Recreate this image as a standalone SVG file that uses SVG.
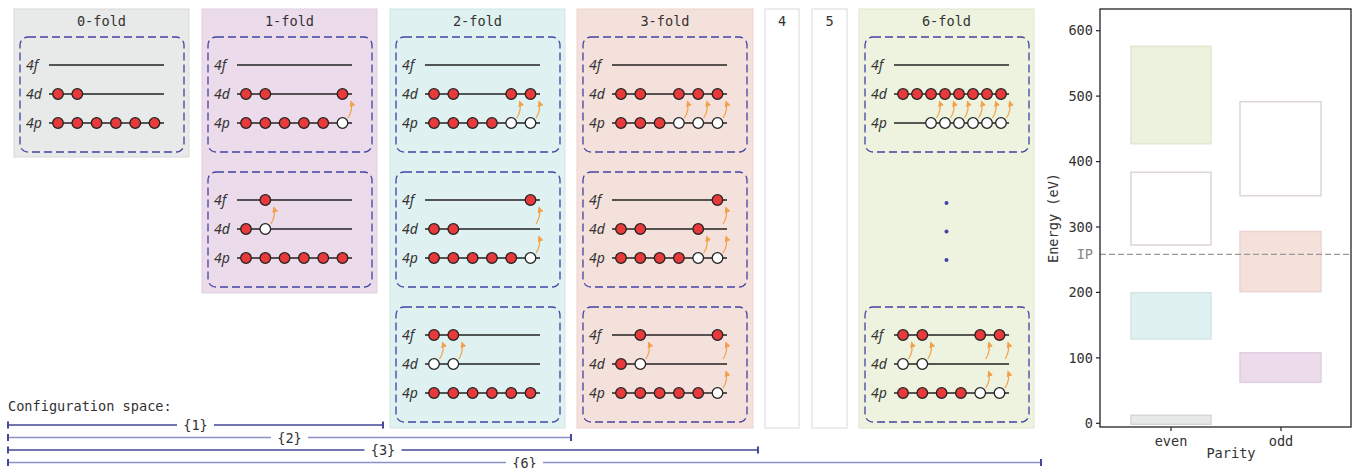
<svg xmlns="http://www.w3.org/2000/svg" width="1354" height="468" viewBox="0 0 1354 468">
<defs>
<marker id="ah" markerUnits="userSpaceOnUse" markerWidth="7" markerHeight="7" refX="5" refY="3" orient="auto">
<path d="M0,0 L6,3 L0,6 z" fill="#f4a049"/>
</marker>
<style>
.mono{font-family:"DejaVu Sans Mono","Liberation Mono",monospace;font-size:13.6px;fill:#333}
.ttl{text-anchor:middle}
.lbl{font-family:"Noto Sans","DejaVu Sans",sans-serif;font-style:italic;font-size:14px;fill:#333}
.box{fill:none;stroke:#4343a3;stroke-width:1.3;stroke-dasharray:8,4}
.lv{stroke:#222;stroke-width:1.3}
.e{fill:#e8393b;stroke:#222;stroke-width:1.3}
.h{fill:#fff;stroke:#222;stroke-width:1.3}
.ar{fill:none;stroke:#f4a049;stroke-width:1.2;marker-end:url(#ah)}
.dk{stroke:#45479a;stroke-width:1.5}
.lt{stroke:#8d90c8;stroke-width:1.5}
.tk{stroke:#45479a;stroke-width:2}
</style>
</defs>
<rect width="1354" height="468" fill="#fff"/>

<!-- panel 0-fold -->
<g id="panel0">
<rect x="14" y="9" width="175" height="148" fill="#e8e9e9" stroke="#d8d8d8"/>
<text class="mono ttl" x="101.5" y="25.5">0-fold</text>
<rect class="box" x="20" y="37" width="164" height="115" rx="8"/>
<text class="lbl" x="26" y="70">4f</text><text class="lbl" x="26" y="99">4d</text><text class="lbl" x="26" y="128">4p</text>
<line class="lv" x1="49" y1="65" x2="164" y2="65"/><line class="lv" x1="49" y1="94" x2="164" y2="94"/><line class="lv" x1="49" y1="123" x2="164" y2="123"/>
<circle class="e" cx="58" cy="94" r="5.3"/><circle class="e" cx="77.3" cy="94" r="5.3"/>
<circle class="e" cx="58" cy="123" r="5.3"/><circle class="e" cx="77.3" cy="123" r="5.3"/><circle class="e" cx="96.6" cy="123" r="5.3"/><circle class="e" cx="115.9" cy="123" r="5.3"/><circle class="e" cx="135.2" cy="123" r="5.3"/><circle class="e" cx="154.5" cy="123" r="5.3"/>
</g>

<!-- panel 1-fold -->
<g id="panel1">
<rect x="202" y="9" width="175" height="284" fill="#ecdbeb" stroke="#e0cfe0"/>
<text class="mono ttl" x="289.5" y="25.5">1-fold</text>
<rect class="box" x="208" y="37" width="164" height="115" rx="8"/>
<text class="lbl" x="214" y="70">4f</text><text class="lbl" x="214" y="99">4d</text><text class="lbl" x="214" y="128">4p</text>
<line class="lv" x1="237" y1="65" x2="352" y2="65"/><line class="lv" x1="237" y1="94" x2="352" y2="94"/><line class="lv" x1="237" y1="123" x2="352" y2="123"/>
<circle class="e" cx="246" cy="94" r="5.3"/><circle class="e" cx="265.3" cy="94" r="5.3"/><circle class="e" cx="342.5" cy="94" r="5.3"/>
<circle class="e" cx="246" cy="123" r="5.3"/><circle class="e" cx="265.3" cy="123" r="5.3"/><circle class="e" cx="284.6" cy="123" r="5.3"/><circle class="e" cx="303.9" cy="123" r="5.3"/><circle class="e" cx="323.2" cy="123" r="5.3"/><circle class="h" cx="342.5" cy="123" r="5.3"/>
<path class="ar" d="M348,118 C351.5,113 352.5,106 351,101.5"/>
<rect class="box" x="208" y="172" width="164" height="115" rx="8"/>
<text class="lbl" x="214" y="205">4f</text><text class="lbl" x="214" y="234">4d</text><text class="lbl" x="214" y="263">4p</text>
<line class="lv" x1="237" y1="200" x2="352" y2="200"/><line class="lv" x1="237" y1="229" x2="352" y2="229"/><line class="lv" x1="237" y1="258" x2="352" y2="258"/>
<circle class="e" cx="265.3" cy="200" r="5.3"/>
<circle class="e" cx="246" cy="229" r="5.3"/><circle class="h" cx="265.3" cy="229" r="5.3"/>
<circle class="e" cx="246" cy="258" r="5.3"/><circle class="e" cx="265.3" cy="258" r="5.3"/><circle class="e" cx="284.6" cy="258" r="5.3"/><circle class="e" cx="303.9" cy="258" r="5.3"/><circle class="e" cx="323.2" cy="258" r="5.3"/><circle class="e" cx="342.5" cy="258" r="5.3"/>
<path class="ar" d="M270.8,224 C274.3,219 275.3,212 273.8,207.5"/>
</g>

<!-- panel 2-fold -->
<g id="panel2">
<rect x="390" y="9" width="175" height="419" fill="#dff1f0" stroke="#d0e6e4"/>
<text class="mono ttl" x="477.5" y="25.5">2-fold</text>
<rect class="box" x="396" y="37" width="164" height="115" rx="8"/>
<text class="lbl" x="402" y="70">4f</text><text class="lbl" x="402" y="99">4d</text><text class="lbl" x="402" y="128">4p</text>
<line class="lv" x1="425" y1="65" x2="540" y2="65"/><line class="lv" x1="425" y1="94" x2="540" y2="94"/><line class="lv" x1="425" y1="123" x2="540" y2="123"/>
<circle class="e" cx="434" cy="94" r="5.3"/><circle class="e" cx="453.3" cy="94" r="5.3"/><circle class="e" cx="511.2" cy="94" r="5.3"/><circle class="e" cx="530.5" cy="94" r="5.3"/>
<circle class="e" cx="434" cy="123" r="5.3"/><circle class="e" cx="453.3" cy="123" r="5.3"/><circle class="e" cx="472.6" cy="123" r="5.3"/><circle class="e" cx="491.9" cy="123" r="5.3"/><circle class="h" cx="511.2" cy="123" r="5.3"/><circle class="h" cx="530.5" cy="123" r="5.3"/>
<path class="ar" d="M516.7,118 C520.2,113 521.2,106 519.7,101.5"/>
<path class="ar" d="M536,118 C539.5,113 540.5,106 539,101.5"/>
<rect class="box" x="396" y="172" width="164" height="115" rx="8"/>
<text class="lbl" x="402" y="205">4f</text><text class="lbl" x="402" y="234">4d</text><text class="lbl" x="402" y="263">4p</text>
<line class="lv" x1="425" y1="200" x2="540" y2="200"/><line class="lv" x1="425" y1="229" x2="540" y2="229"/><line class="lv" x1="425" y1="258" x2="540" y2="258"/>
<circle class="e" cx="530.5" cy="200" r="5.3"/>
<circle class="e" cx="434" cy="229" r="5.3"/><circle class="e" cx="453.3" cy="229" r="5.3"/>
<circle class="e" cx="434" cy="258" r="5.3"/><circle class="e" cx="453.3" cy="258" r="5.3"/><circle class="e" cx="472.6" cy="258" r="5.3"/><circle class="e" cx="491.9" cy="258" r="5.3"/><circle class="e" cx="511.2" cy="258" r="5.3"/><circle class="h" cx="530.5" cy="258" r="5.3"/>
<path class="ar" d="M536,253 C539.5,248 540.5,241 539,236.5"/>
<path class="ar" d="M536,224 C539.5,219 540.5,212 539,207.5"/>
<rect class="box" x="396" y="307" width="164" height="115" rx="8"/>
<text class="lbl" x="402" y="340">4f</text><text class="lbl" x="402" y="369">4d</text><text class="lbl" x="402" y="398">4p</text>
<line class="lv" x1="425" y1="335" x2="540" y2="335"/><line class="lv" x1="425" y1="364" x2="540" y2="364"/><line class="lv" x1="425" y1="393" x2="540" y2="393"/>
<circle class="e" cx="434" cy="335" r="5.3"/><circle class="e" cx="453.3" cy="335" r="5.3"/>
<circle class="h" cx="434" cy="364" r="5.3"/><circle class="h" cx="453.3" cy="364" r="5.3"/>
<circle class="e" cx="434" cy="393" r="5.3"/><circle class="e" cx="453.3" cy="393" r="5.3"/><circle class="e" cx="472.6" cy="393" r="5.3"/><circle class="e" cx="491.9" cy="393" r="5.3"/><circle class="e" cx="511.2" cy="393" r="5.3"/><circle class="e" cx="530.5" cy="393" r="5.3"/>
<path class="ar" d="M439.5,359 C443,354 444,347 442.5,342.5"/>
<path class="ar" d="M458.8,359 C462.3,354 463.3,347 461.8,342.5"/>
</g>

<!-- panel 3-fold -->
<g id="panel3">
<rect x="577" y="9" width="176" height="419" fill="#f5e1dc" stroke="#ead4ce"/>
<text class="mono ttl" x="665" y="25.5">3-fold</text>
<rect class="box" x="583" y="37" width="164" height="115" rx="8"/>
<text class="lbl" x="589" y="70">4f</text><text class="lbl" x="589" y="99">4d</text><text class="lbl" x="589" y="128">4p</text>
<line class="lv" x1="612" y1="65" x2="727" y2="65"/><line class="lv" x1="612" y1="94" x2="727" y2="94"/><line class="lv" x1="612" y1="123" x2="727" y2="123"/>
<circle class="e" cx="621" cy="94" r="5.3"/><circle class="e" cx="640.3" cy="94" r="5.3"/><circle class="e" cx="678.9" cy="94" r="5.3"/><circle class="e" cx="698.2" cy="94" r="5.3"/><circle class="e" cx="717.5" cy="94" r="5.3"/>
<circle class="e" cx="621" cy="123" r="5.3"/><circle class="e" cx="640.3" cy="123" r="5.3"/><circle class="e" cx="659.6" cy="123" r="5.3"/><circle class="h" cx="678.9" cy="123" r="5.3"/><circle class="h" cx="698.2" cy="123" r="5.3"/><circle class="h" cx="717.5" cy="123" r="5.3"/>
<path class="ar" d="M684.4,118 C687.9,113 688.9,106 687.4,101.5"/>
<path class="ar" d="M703.7,118 C707.2,113 708.2,106 706.7,101.5"/>
<path class="ar" d="M723,118 C726.5,113 727.5,106 726,101.5"/>
<rect class="box" x="583" y="172" width="164" height="115" rx="8"/>
<text class="lbl" x="589" y="205">4f</text><text class="lbl" x="589" y="234">4d</text><text class="lbl" x="589" y="263">4p</text>
<line class="lv" x1="612" y1="200" x2="727" y2="200"/><line class="lv" x1="612" y1="229" x2="727" y2="229"/><line class="lv" x1="612" y1="258" x2="727" y2="258"/>
<circle class="e" cx="717.5" cy="200" r="5.3"/>
<circle class="e" cx="621" cy="229" r="5.3"/><circle class="e" cx="640.3" cy="229" r="5.3"/><circle class="e" cx="698.2" cy="229" r="5.3"/>
<circle class="e" cx="621" cy="258" r="5.3"/><circle class="e" cx="640.3" cy="258" r="5.3"/><circle class="e" cx="659.6" cy="258" r="5.3"/><circle class="e" cx="678.9" cy="258" r="5.3"/><circle class="h" cx="698.2" cy="258" r="5.3"/><circle class="h" cx="717.5" cy="258" r="5.3"/>
<path class="ar" d="M703.7,253 C707.2,248 708.2,241 706.7,236.5"/>
<path class="ar" d="M723,253 C726.5,248 727.5,241 726,236.5"/>
<path class="ar" d="M723,224 C726.5,219 727.5,212 726,207.5"/>
<rect class="box" x="583" y="307" width="164" height="115" rx="8"/>
<text class="lbl" x="589" y="340">4f</text><text class="lbl" x="589" y="369">4d</text><text class="lbl" x="589" y="398">4p</text>
<line class="lv" x1="612" y1="335" x2="727" y2="335"/><line class="lv" x1="612" y1="364" x2="727" y2="364"/><line class="lv" x1="612" y1="393" x2="727" y2="393"/>
<circle class="e" cx="640.3" cy="335" r="5.3"/><circle class="e" cx="717.5" cy="335" r="5.3"/>
<circle class="e" cx="621" cy="364" r="5.3"/><circle class="h" cx="640.3" cy="364" r="5.3"/>
<circle class="e" cx="621" cy="393" r="5.3"/><circle class="e" cx="640.3" cy="393" r="5.3"/><circle class="e" cx="659.6" cy="393" r="5.3"/><circle class="e" cx="678.9" cy="393" r="5.3"/><circle class="e" cx="698.2" cy="393" r="5.3"/><circle class="h" cx="717.5" cy="393" r="5.3"/>
<path class="ar" d="M645.8,359 C649.3,354 650.3,347 648.8,342.5"/>
<path class="ar" d="M723,388 C726.5,383 727.5,376 726,371.5"/>
<path class="ar" d="M723,359 C726.5,354 727.5,347 726,342.5"/>
</g>

<!-- panels 4 and 5 -->
<g id="panel4">
<rect x="765" y="9" width="34" height="419" fill="#fff" stroke="#d9d9d9"/>
<text class="mono ttl" x="782" y="25.5">4</text>
</g>
<g id="panel5">
<rect x="812" y="9" width="35" height="419" fill="#fff" stroke="#d9d9d9"/>
<text class="mono ttl" x="829.5" y="25.5">5</text>
</g>

<!-- panel 6-fold -->
<g id="panel6">
<rect x="859" y="9" width="175" height="419" fill="#edf3de" stroke="#e0e8cf"/>
<text class="mono ttl" x="946.5" y="25.5">6-fold</text>
<rect class="box" x="865" y="37" width="164" height="115" rx="8"/>
<text class="lbl" x="871" y="70">4f</text><text class="lbl" x="871" y="99">4d</text><text class="lbl" x="871" y="128">4p</text>
<line class="lv" x1="894" y1="65" x2="1009" y2="65"/><line class="lv" x1="894" y1="94" x2="1009" y2="94"/><line class="lv" x1="894" y1="123" x2="1009" y2="123"/>
<circle class="e" cx="903" cy="94" r="5.3"/><circle class="e" cx="917" cy="94" r="5.3"/><circle class="e" cx="931" cy="94" r="5.3"/><circle class="e" cx="945" cy="94" r="5.3"/><circle class="e" cx="959" cy="94" r="5.3"/><circle class="e" cx="973" cy="94" r="5.3"/><circle class="e" cx="987" cy="94" r="5.3"/><circle class="e" cx="1001" cy="94" r="5.3"/>
<circle class="h" cx="931" cy="123" r="5.3"/><circle class="h" cx="945" cy="123" r="5.3"/><circle class="h" cx="959" cy="123" r="5.3"/><circle class="h" cx="973" cy="123" r="5.3"/><circle class="h" cx="987" cy="123" r="5.3"/><circle class="h" cx="1001" cy="123" r="5.3"/>
<path class="ar" d="M936.5,118 C940,113 941,106 939.5,101.5"/>
<path class="ar" d="M950.5,118 C954,113 955,106 953.5,101.5"/>
<path class="ar" d="M964.5,118 C968,113 969,106 967.5,101.5"/>
<path class="ar" d="M978.5,118 C982,113 983,106 981.5,101.5"/>
<path class="ar" d="M992.5,118 C996,113 997,106 995.5,101.5"/>
<path class="ar" d="M1006.5,118 C1010,113 1011,106 1009.5,101.5"/>
<circle cx="946.5" cy="203" r="2" fill="#4343a3"/><circle cx="946.5" cy="231.5" r="2" fill="#4343a3"/><circle cx="946.5" cy="260" r="2" fill="#4343a3"/>
<rect class="box" x="865" y="307" width="164" height="115" rx="8"/>
<text class="lbl" x="871" y="340">4f</text><text class="lbl" x="871" y="369">4d</text><text class="lbl" x="871" y="398">4p</text>
<line class="lv" x1="894" y1="335" x2="1009" y2="335"/><line class="lv" x1="894" y1="364" x2="1009" y2="364"/><line class="lv" x1="894" y1="393" x2="1009" y2="393"/>
<circle class="e" cx="903" cy="335" r="5.3"/><circle class="e" cx="922.3" cy="335" r="5.3"/><circle class="e" cx="980.2" cy="335" r="5.3"/><circle class="e" cx="999.5" cy="335" r="5.3"/>
<circle class="h" cx="903" cy="364" r="5.3"/><circle class="h" cx="922.3" cy="364" r="5.3"/>
<circle class="e" cx="903" cy="393" r="5.3"/><circle class="e" cx="922.3" cy="393" r="5.3"/><circle class="e" cx="941.6" cy="393" r="5.3"/><circle class="e" cx="960.9" cy="393" r="5.3"/><circle class="h" cx="980.2" cy="393" r="5.3"/><circle class="h" cx="999.5" cy="393" r="5.3"/>
<path class="ar" d="M908.5,359 C912,354 913,347 911.5,342.5"/>
<path class="ar" d="M927.8,359 C931.3,354 932.3,347 930.8,342.5"/>
<path class="ar" d="M985.7,388 C989.2,383 990.2,376 988.7,371.5"/>
<path class="ar" d="M1005,388 C1008.5,383 1009.5,376 1008,371.5"/>
<path class="ar" d="M985.7,359 C989.2,354 990.2,347 988.7,342.5"/>
<path class="ar" d="M1005,359 C1008.5,354 1009.5,347 1008,342.5"/>
</g>

<!-- configuration space -->
<g id="config">
<text class="mono" x="8" y="411">Configuration space:</text>
<line class="dk" x1="8" y1="425" x2="383" y2="425"/>
<line class="tk" x1="8" y1="421.5" x2="8" y2="428.5"/><line class="tk" x1="383" y1="421.5" x2="383" y2="428.5"/>
<rect x="177" y="418" width="37" height="14" fill="#fff"/>
<text class="mono ttl" x="195.5" y="430">{1}</text>
<line class="lt" x1="8" y1="437.5" x2="571" y2="437.5"/>
<line class="tk" x1="8" y1="434" x2="8" y2="441"/><line class="tk" x1="571" y1="434" x2="571" y2="441"/>
<rect x="271" y="430.5" width="37" height="14" fill="#fff"/>
<text class="mono ttl" x="289.5" y="442.5">{2}</text>
<line class="dk" x1="8" y1="450" x2="758" y2="450"/>
<line class="tk" x1="8" y1="446.5" x2="8" y2="453.5"/><line class="tk" x1="758" y1="446.5" x2="758" y2="453.5"/>
<rect x="364.5" y="443" width="37" height="14" fill="#fff"/>
<text class="mono ttl" x="383" y="455">{3}</text>
<line class="lt" x1="8" y1="462.5" x2="1041" y2="462.5"/>
<line class="tk" x1="8" y1="459" x2="8" y2="466"/><line class="tk" x1="1041" y1="459" x2="1041" y2="466"/>
<rect x="506" y="455.5" width="37" height="13" fill="#fff"/>
<text class="mono ttl" x="524.5" y="467.5">{6}</text>
</g>

<!-- energy chart -->
<g id="chart">
<rect x="1131" y="415.3" width="80" height="9" fill="#e8e9e9" stroke="#d6d6d6" stroke-width="1.5"/>
<rect x="1131" y="292.7" width="80" height="46.3" fill="#dff1f0" stroke="#cfe6e4" stroke-width="1.5"/>
<rect x="1131" y="172.3" width="80" height="72.7" fill="#fff" stroke="#ddd6d4" stroke-width="1.5"/>
<rect x="1131" y="46.3" width="80" height="97.4" fill="#edf2de" stroke="#e0e8cf" stroke-width="1.5"/>
<rect x="1240" y="352.7" width="81" height="29.6" fill="#ecdbeb" stroke="#e0cfe0" stroke-width="1.5"/>
<rect x="1240" y="231.5" width="81" height="60.2" fill="#f5e1dc" stroke="#ecd5cf" stroke-width="1.5"/>
<rect x="1240" y="101.7" width="81" height="94" fill="#fff" stroke="#ddd6d4" stroke-width="1.5"/>
<line x1="1100" y1="254.3" x2="1351" y2="254.3" stroke="#999" stroke-width="1.3" stroke-dasharray="6,3"/>
<rect x="1100" y="9" width="251" height="418" fill="none" stroke="#222" stroke-width="1.3"/>
<g stroke="#222" stroke-width="1.2">
<line x1="1096" y1="423.3" x2="1100" y2="423.3"/><line x1="1096" y1="357.9" x2="1100" y2="357.9"/><line x1="1096" y1="292.4" x2="1100" y2="292.4"/><line x1="1096" y1="227" x2="1100" y2="227"/><line x1="1096" y1="161.6" x2="1100" y2="161.6"/><line x1="1096" y1="96.1" x2="1100" y2="96.1"/><line x1="1096" y1="30.7" x2="1100" y2="30.7"/>
<line x1="1171" y1="427" x2="1171" y2="431"/><line x1="1281" y1="427" x2="1281" y2="431"/>
</g>
<g class="mono" text-anchor="end">
<text x="1093" y="428">0</text><text x="1093" y="362.5">100</text><text x="1093" y="297">200</text><text x="1093" y="231.5">300</text><text x="1093" y="166">400</text><text x="1093" y="100.5">500</text><text x="1093" y="35">600</text>
<text x="1093" y="259" style="fill:#888">IP</text>
</g>
<text class="mono ttl" x="1171" y="445.5">even</text>
<text class="mono ttl" x="1281" y="445.5">odd</text>
<text class="mono ttl" x="1231" y="457.5">Parity</text>
<text class="mono ttl" transform="translate(1058,218) rotate(-90)">Energy (eV)</text>
</g>
</svg>
